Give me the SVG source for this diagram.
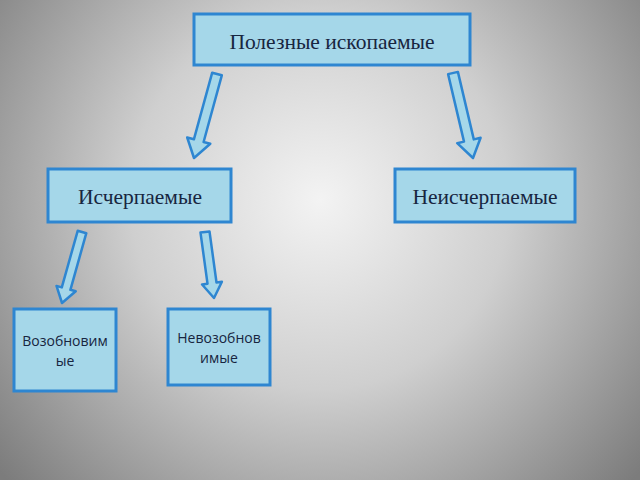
<svg xmlns="http://www.w3.org/2000/svg" width="640" height="480" viewBox="0 0 640 480">
<defs>
<radialGradient id="bg" gradientUnits="userSpaceOnUse" cx="320" cy="200" r="420">
<stop offset="0" stop-color="#f3f3f3"/>
<stop offset="0.45" stop-color="#cfcfcf"/>
<stop offset="1" stop-color="#7c7c7c"/>
</radialGradient>
<style>
.box{fill:#a5d7e9;stroke:#2e86d1;stroke-width:3}
.arr{fill:#a5d7e9;stroke:#2e86d1;stroke-width:2.5;stroke-linejoin:round}
.serif{font-family:"Liberation Serif","Times New Roman",serif;font-size:21.5px;fill:#172540;text-anchor:middle}
.sans{font-family:"Open Sans","Noto Sans",sans-serif;font-size:14px;fill:#172540;text-anchor:middle}
</style>
</defs>
<rect width="640" height="480" fill="url(#bg)"/>
<g id="connectors">
<polygon class="arr" points="221.8,75.3 203.6,142.0 210.3,143.8 194,158 187.2,137.5 193.9,139.3 212.2,72.7"/>
<polygon class="arr" points="457.9,71.9 473.8,139.4 480.6,137.7 473,158 457.2,143.2 464.0,141.6 448.1,74.1"/>
<polygon class="arr" points="86.3,233.2 70.4,289.8 75.7,291.3 62,303 56.5,285.9 61.8,287.4 77.7,230.8"/>
<polygon class="arr" points="209.5,231.4 216.5,282.5 221.9,281.8 214,298 202.1,284.5 207.5,283.7 200.5,232.6"/>
</g>
<g id="node-root">
<rect class="box" x="194" y="14" width="276" height="51"/>
<text class="serif" x="332" y="49">Полезные ископаемые</text>
</g>
<g id="node-exhaustible">
<rect class="box" x="48" y="169" width="183" height="53"/>
<text class="serif" x="140" y="204">Исчерпаемые</text>
</g>
<g id="node-inexhaustible">
<rect class="box" x="395" y="169" width="180" height="53"/>
<text class="serif" x="485" y="204">Неисчерпаемые</text>
</g>
<g id="node-renewable">
<rect class="box" x="14" y="309" width="102" height="82"/>
<text class="sans" x="65" y="346">Возобновим</text>
<text class="sans" x="65" y="366">ые</text>
</g>
<g id="node-nonrenewable">
<rect class="box" x="168" y="309" width="102" height="76"/>
<text class="sans" x="219" y="343">Невозобнов</text>
<text class="sans" x="219" y="363">имые</text>
</g>
</svg>
